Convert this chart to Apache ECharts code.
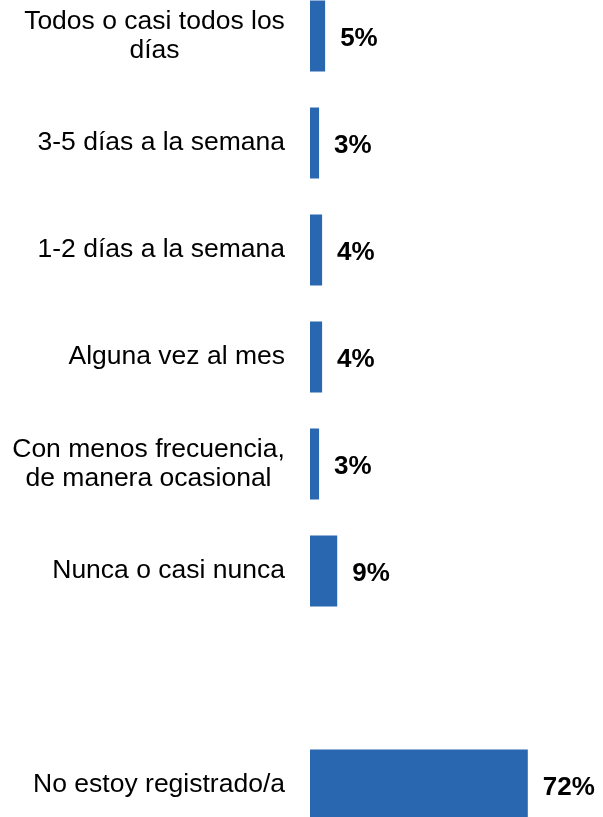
<!DOCTYPE html>
<html>
<head>
<meta charset="utf-8">
<script src="https://cdn.jsdelivr.net/npm/echarts@6/dist/echarts.min.js"></script>
<style>
  html, body { margin: 0; padding: 0; background: #fff; }
  #chart { width: 603px; height: 817px; }
</style>
</head>
<body>
<div id="chart"></div>
<script>
  // datos: frecuencia de uso (de arriba a abajo), '' = hueco entre grupos
  var categories = [
    'Todos o casi todos los\ndías',
    '3-5 días a la semana',
    '1-2 días a la semana',
    'Alguna vez al mes',
    'Con menos frecuencia,\nde manera ocasional',
    'Nunca o casi nunca',
    '',
    'No estoy registrado/a'
  ]
  var values = [5, 3, 4, 4, 3, 9, null, 72]

  var labelSize = 26.5
  var labelFont = labelSize + 'px "Liberation Sans", Arial, sans-serif'

  // las etiquetas de dos líneas van centradas entre sí, el bloque alineado a la derecha
  var ctx = document.createElement('canvas').getContext('2d')
  ctx.font = labelFont
  var rich = {}
  var richNames = {}
  categories.forEach(function (c, i) {
    var lines = c.split('\n')
    if (lines.length < 2) return
    var w = Math.ceil(Math.max.apply(null, lines.map(function (l) { return ctx.measureText(l).width })))
    rich['m' + i] = { width: w, align: 'center', fontSize: labelSize, lineHeight: 29, color: '#000', fontFamily: 'Liberation Sans' }
    richNames[c] = 'm' + i
  })

  var chart = echarts.init(document.getElementById('chart'))
  chart.setOption({
    animation: false,
    grid: { left: 310, right: 51, top: -17.5, bottom: -21.5, containLabel: false, outerBoundsMode: 'none' },
    xAxis: { type: 'value', min: 0, max: 80, show: false },
    yAxis: {
      type: 'category',
      inverse: true,
      data: categories,
      axisLine: { show: false },
      axisTick: { show: false },
      splitLine: { show: false },
      axisLabel: {
        margin: 25,
        color: '#000',
        fontSize: labelSize,
        lineHeight: 29,
        fontFamily: 'Liberation Sans',
        formatter: function (v) {
          var n = richNames[v]
          if (!n) return v
          return v.split('\n').map(function (l) { return '{' + n + '|' + l + '}' }).join('\n')
        },
        rich: rich
      }
    },
    series: [{
      type: 'bar',
      data: values,
      barWidth: 71,
      itemStyle: { color: '#2A67B1' },
      label: {
        show: true,
        position: 'right',
        distance: 15,
        offset: [0, 3],
        formatter: '{c}%',
        color: '#000',
        fontSize: 26,
        fontWeight: 'bold',
        fontFamily: 'Liberation Sans'
      }
    }]
  })
</script>
</body>
</html>
